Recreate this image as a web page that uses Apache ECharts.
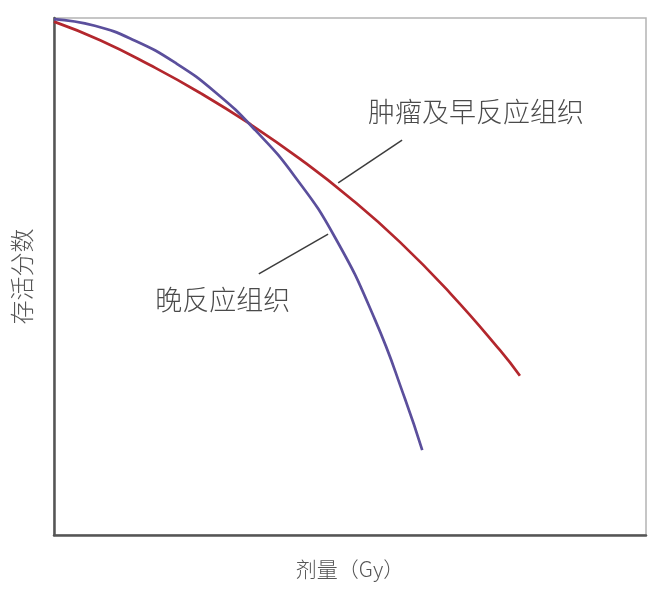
<!DOCTYPE html>
<html>
<head>
<meta charset="utf-8">
<script src="https://cdn.jsdelivr.net/npm/echarts@6/dist/echarts.min.js"></script>
<style>
html,body{margin:0;padding:0;background:#fff;}
#c{width:656px;height:593px;}
</style>
</head>
<body>
<div id="c"></div>
<script>
// Dose (arbitrary units, 0-100 across the plot) and surviving fraction (0-100 relative)
var tumorDose     = [0, 7.8, 16.2, 24.7, 33.1, 41.6, 50.0, 58.4, 66.9, 75.3, 78.7];
var tumorSurvival = [99.3, 95.7, 90.9, 85.5, 79.5, 72.7, 65.2, 56.7, 46.8, 35.8, 30.8];
var lateDose      = [0, 6.9, 13.7, 20.4, 27.2, 34.0, 40.7, 47.5, 54.2, 59.3, 62.2];
var lateSurvival  = [99.8, 98.5, 95.6, 91.4, 85.7, 78.3, 69.3, 57.5, 41.7, 26.3, 16.4];

var tumorLabel = '肿瘤及早反应组织';
var lateLabel  = '晚反应组织';
var xTitle = '剂量（Gy）';
var yTitle = '存活分数';

// annotation anchors in data space
var tumorText   = [71.3, 81.8];
var tumorLeader = [[58.8, 76.4], [48.0, 68.1]];
var lateText    = [28.5, 45.5];
var lateLeader  = [[46.3, 58.2], [34.6, 50.5]];

function pairs(xs, ys){ return xs.map(function(x,i){ return [x, ys[i]]; }); }

var FONT = '"Noto Sans CJK SC", "Noto Sans", sans-serif';
var chart = echarts.init(document.getElementById('c'), null, {renderer:'canvas'});

var option = {
  animation:false,
  backgroundColor:'#fff',
  grid:{left:54, right:10, top:18, bottom:58, show:true, borderColor:'#b4b4b4', borderWidth:1.5},
  xAxis:{
    type:'value', min:0, max:100,
    name:xTitle, nameLocation:'middle', nameGap:24,
    nameTextStyle:{fontFamily:FONT, fontSize:21, fontWeight:300, color:'#555'},
    axisLine:{show:true, onZero:false, lineStyle:{color:'#555', width:2.5}},
    axisTick:{show:false}, axisLabel:{show:false}, splitLine:{show:false}
  },
  yAxis:{
    type:'value', min:0, max:100,
    name:yTitle, nameLocation:'middle', nameGap:20, nameRotate:90,
    nameTextStyle:{fontFamily:FONT, fontSize:24, fontWeight:300, color:'#555'},
    axisLine:{show:true, onZero:false, lineStyle:{color:'#555', width:2.5}},
    axisTick:{show:false}, axisLabel:{show:false}, splitLine:{show:false}
  },
  series:[
    {
      type:'line', smooth:0.5, showSymbol:false,
      data:pairs(tumorDose, tumorSurvival),
      lineStyle:{color:'#b3272d', width:2.7}, z:3,
      markLine:{silent:true, symbol:'none', label:{show:false},
        lineStyle:{color:'#3c3c3c', width:1.5, type:'solid'},
        data:[[{coord:tumorLeader[0]},{coord:tumorLeader[1]}]]}
    },
    {
      type:'line', smooth:0.5, showSymbol:false,
      data:pairs(lateDose, lateSurvival),
      lineStyle:{color:'#5b4f9c', width:2.7}, z:4,
      markLine:{silent:true, symbol:'none', label:{show:false},
        lineStyle:{color:'#3c3c3c', width:1.5, type:'solid'},
        data:[[{coord:lateLeader[0]},{coord:lateLeader[1]}]]}
    }
  ]
};
chart.setOption(option);

var p1 = chart.convertToPixel({gridIndex:0}, tumorText);
var p2 = chart.convertToPixel({gridIndex:0}, lateText);
chart.setOption({
  graphic:[
    {type:'text', x:p1[0], y:p1[1], style:{text:tumorLabel, fontFamily:FONT, fontSize:27, fontWeight:300, fill:'#4a4a4a', align:'center', verticalAlign:'middle'}},
    {type:'text', x:p2[0], y:p2[1], style:{text:lateLabel, fontFamily:FONT, fontSize:27, fontWeight:300, fill:'#4a4a4a', align:'center', verticalAlign:'middle'}}
  ]
});
</script>
</body>
</html>
